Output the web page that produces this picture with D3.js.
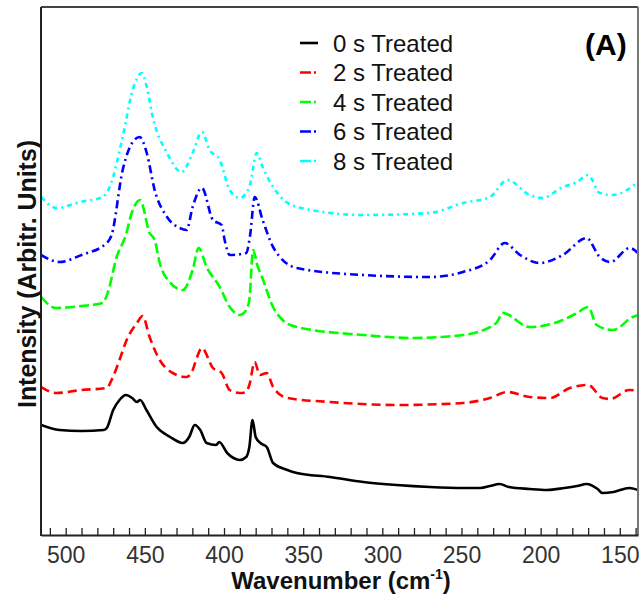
<!DOCTYPE html>
<html><head><meta charset="utf-8">
<script src="https://cdn.jsdelivr.net/npm/d3@7"></script>
<style>body{margin:0;background:#fff}svg{display:block}</style>
</head><body>
<svg id="chart" width="641" height="597"></svg>
<script>
// ---- data (wavenumber in cm-1, intensity in arbitrary units) ----
const seriesNames = ["0 s Treated","2 s Treated","4 s Treated","6 s Treated","8 s Treated"];
const seriesColors = ["#000000","#ff0000","#00ff00","#0000ff","#00ffff"];
const xTickLabels = [500,450,400,350,300,250,200,150];

const wn0 = [515.5,504,490,476,474,470,466,462,458,455,453,449,442.5,434,426,422,418.5,415,411,405,403,398,394,390,386,384,382,380,377,373,369,360,354,333,312,291,270,249,238,232,226,220,207,196,185,177,171,164,161,154,144,138.5];
const int0 = [110,105,104,105,107,125,135,140,137,133,135,125,108,98,92,98,110,105,92,90,93,82,77,75,78,88,115,98,92,88,72,65,62,58,53,50,48,47,47,49,51,48,46,45,47,49,51,46,42,43,47,45];

const wn1 = [515.5,506,490,474,471,466,461.5,455,451.4,447,440.6,432.4,423.6,419.8,417,414,407,401.5,396.4,390,386,384,380.6,377.4,373,369,360,333,291,249,232,221,207,194,181.6,170,161,156,144,138.5];
const int1 = [148,142,145,147,155,175,195,212,219,198,175,162,158,165,178,187,167,162,145,142,143,150,173,160,162,148,137,133,130,132,137,143,138,137,147,150,137,136,145,144];

const wn2 = [515.5,506,490,476.6,473.5,467.8,462,458.3,453,447,443.8,440.6,434.3,426.1,419.8,416,411,402.7,396.4,390,386,384,381.6,379,376,369,363,354,312,281,249,228,224,207,186,177,170,164.6,154.5,141.8,138.5];
const int2 = [238,227,229,232,242,278,300,322,335,302,295,272,253,245,265,287,268,248,228,220,225,235,285,270,258,228,215,208,200,197,200,212,222,208,215,222,228,210,205,218,220];

const wn3 = [515.5,504,490,474,471,464,457.7,453.3,448.8,443.8,436,428,423.6,419.8,414,407,401.5,399.6,396.4,386,383.5,380.6,375.6,369,354,312,270,249,232,222.7,213,200.6,186,171,162.7,156,143.7,138.5];
const int3 = [280,273,280,292,300,365,393,398,382,345,318,307,305,328,347,315,310,295,280,282,300,338,315,288,267,260,258,263,275,292,280,272,280,297,278,273,287,282];

const wn4 = [515.5,505.7,491,476.6,472.2,464,457.7,452,448.8,445,436,426.7,419.8,414,409,402.7,396.4,390,384,379.3,375.6,369,354,312,270,249,232,221,207,199,186,177,170,162.7,154.5,138.5];
const int4 = [338,327,333,338,348,398,445,462,448,418,382,363,382,403,385,375,345,337,348,382,368,348,328,320,322,332,338,355,340,337,348,353,360,342,340,353];

const wnAll = [wn0,wn1,wn2,wn3,wn4];
const intAll = [int0,int1,int2,int3,int4];

// ---- styles ----
const dashes = [null,"9,5","10,4","8,4,2,4","5,4,2,4"];
const legendDashes = [null,"11,3,2,20","11,3,2,20","11,3,2,20","11,3,2,20"];

const svg = d3.select("#chart");
const L = 41, R = 638, T = 7, B = 535;
const x = d3.scaleLinear().domain([515.6, 138.5]).range([L, R]);
const y = d3.scaleLinear().domain([0, 528]).range([B, T]);

svg.append("defs").append("clipPath").attr("id","clip")
  .append("rect").attr("x",L).attr("y",T).attr("width",R-L).attr("height",B-T);

// curves
const line = d3.line().x(d => x(d[0])).y(d => y(d[1])).curve(d3.curveMonotoneX);
const gLines = svg.append("g").attr("clip-path","url(#clip)");
seriesNames.forEach((name,i) => {
  const pts = wnAll[i].map((w,j) => [w, intAll[i][j]]);
  gLines.append("path").datum(pts)
    .attr("d", line)
    .attr("fill","none")
    .attr("stroke", seriesColors[i])
    .attr("stroke-width", 2.6)
    .attr("stroke-linejoin","round")
    .attr("stroke-dasharray", dashes[i]);
});

// frame
svg.append("line").attr("x1",L).attr("x2",R).attr("y1",T).attr("y2",T).attr("stroke","#444").attr("stroke-width",2);
svg.append("line").attr("x1",R).attr("x2",R).attr("y1",T).attr("y2",B).attr("stroke","#777").attr("stroke-width",2);
svg.append("line").attr("x1",L).attr("x2",L).attr("y1",T).attr("y2",B+1).attr("stroke","#222").attr("stroke-width",2);

// bottom axis: minor ticks every 10
const minorTicks = d3.range(510, 138, -10);
const axMinor = svg.append("g").attr("transform",`translate(0,${B})`)
  .call(d3.axisBottom(x).tickValues(minorTicks).tickSizeInner(-7).tickSizeOuter(0).tickFormat(""));
axMinor.select(".domain").attr("stroke","#222").attr("stroke-width",2);
axMinor.selectAll(".tick line").attr("stroke","#222").attr("stroke-width",1.3);

const axLabels = svg.append("g").attr("transform",`translate(0,${B})`)
  .call(d3.axisBottom(x).tickValues(xTickLabels).tickSize(0).tickPadding(12).tickFormat(d3.format("d")));
axLabels.select(".domain").remove();
axLabels.selectAll("text").attr("font-family","Liberation Sans, Arial, sans-serif")
  .attr("font-size",23).attr("fill","#333");

// axis titles
const xt = svg.append("text").attr("x",341).attr("y",589).attr("text-anchor","middle")
  .attr("font-family","Liberation Sans, Arial, sans-serif").attr("font-weight","bold")
  .attr("font-size",24).attr("fill","#111");
xt.append("tspan").text("Wavenumber (cm");
xt.append("tspan").attr("font-size",14).attr("dy",-10).text("-1");
xt.append("tspan").attr("dy",10).text(")");

svg.append("text").attr("transform","translate(36,274) rotate(-90)").attr("text-anchor","middle")
  .attr("font-family","Liberation Sans, Arial, sans-serif").attr("font-weight","bold")
  .attr("font-size",25).attr("fill","#111")
  .attr("textLength",268).attr("lengthAdjust","spacingAndGlyphs")
  .text("Intensity (Arbitr. Units)");

// panel label
svg.append("text").attr("x",585).attr("y",55)
  .attr("font-family","Liberation Sans, Arial, sans-serif").attr("font-weight","bold")
  .attr("font-size",30).attr("fill","#000").text("(A)");

// legend
const lg = svg.append("g");
seriesNames.forEach((name,i) => {
  const cy = 43 + i*29.5;
  lg.append("line").attr("x1",300).attr("x2",318).attr("y1",cy).attr("y2",cy)
    .attr("stroke",seriesColors[i]).attr("stroke-width",2.6)
    .attr("stroke-dasharray", legendDashes[i]);
  lg.append("text").attr("x",333).attr("y",cy+8.5)
    .attr("font-family","Liberation Sans, Arial, sans-serif")
    .attr("font-size",24).attr("fill","#111").text(name);
});
</script>
</body></html>
